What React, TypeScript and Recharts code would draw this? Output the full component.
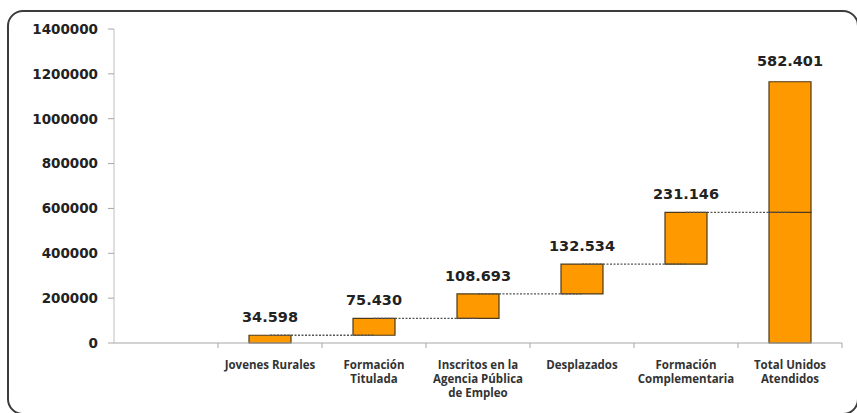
import React from "react";
import {
  ComposedChart,
  Bar,
  XAxis,
  YAxis,
  LabelList,
  ReferenceLine,
} from "recharts";

const categories = [
  "",
  "Jovenes Rurales",
  "Formación\nTitulada",
  "Inscritos en la\nAgencia Pública\nde Empleo",
  "Desplazados",
  "Formación\nComplementaria",
  "Total Unidos\nAtendidos",
];

// step values of the waterfall; the last one is the total
const steps = [null, 34598, 75430, 108693, 132534, 231146, 582401];

const yTicks = [0, 200000, 400000, 600000, 800000, 1000000, 1200000, 1400000];

const fmt = (v: number) => v.toLocaleString("de-DE");

const W = 857;
const H = 413;
const PLOT_LEFT = 114;
const PLOT_RIGHT = 15;
const BAND = (W - PLOT_LEFT - PLOT_RIGHT) / categories.length;

const lastIdx = categories.length - 1;

// build stacked rows: invisible base + visible delta (+ top segment for the total)
let running = 0;
const data = categories.map((name, i) => {
  const v = steps[i];
  if (v == null) return { name };
  if (i === lastIdx) {
    return {
      name,
      base: 0,
      delta: v,
      extra: v,
      totalLabel: fmt(v),
      level: v,
    };
  }
  const row = {
    name,
    base: running,
    delta: v,
    deltaLabel: fmt(v),
    level: running + v,
  };
  running += v;
  return row;
});

const CategoryTick = (props: any) => {
  const { x, y, payload, index } = props;
  const lines = String(payload.value).split("\n");
  const left = x - BAND / 2;
  return (
    <g>
      {index > 0 && (
        <line x1={left} x2={left} y1={y - 8} y2={y - 3} stroke="#a6a6a6" />
      )}
      {index === categories.length - 1 && (
        <line
          x1={left + BAND}
          x2={left + BAND}
          y1={y - 8}
          y2={y - 3}
          stroke="#a6a6a6"
        />
      )}
      <text
        x={x}
        y={y}
        textAnchor="middle"
        fill="#333"
        fontFamily="'Open Sans', sans-serif"
        fontWeight={700}
        fontSize={11.5}
      >
        {lines.map((l, k) => (
          <tspan key={k} x={x} dy={k === 0 ? 18 : 14}>
            {l}
          </tspan>
        ))}
      </text>
    </g>
  );
};

const connectors = data
  .slice(1, lastIdx)
  .map((d: any, i) => ({
    from: d.name,
    to: categories[i + 2],
    y: d.level,
  }));

export default function App() {
  return (
    <div
      style={{
        position: "absolute",
        left: 0,
        top: 0,
        width: W,
        height: H,
        background: "#fff",
        overflow: "hidden",
      }}
    >
      <div
        style={{
          position: "absolute",
          left: 7,
          top: 10,
          width: 852,
          height: 405,
          border: "2px solid #3c3c3c",
          borderRadius: 16,
          boxSizing: "border-box",
        }}
      />
      <div style={{ position: "absolute", left: 0, top: 0 }}>
        <ComposedChart
          width={W}
          height={H}
          data={data}
          margin={{ top: 29, right: PLOT_RIGHT, left: 0, bottom: 0 }}
          barSize={42}
        >
          <XAxis
            dataKey="name"
            height={70}
            tickLine={false}
            axisLine={{ stroke: "#a6a6a6" }}
            tick={<CategoryTick />}
            interval={0}
          />
          <YAxis
            width={PLOT_LEFT}
            domain={[0, 1400000]}
            ticks={yTicks}
            interval={0}
            axisLine={{ stroke: "#bfbfbf" }}
            tickLine={{ stroke: "#a6a6a6" }}
            tickSize={6}
            tickMargin={10}
            tick={{
              fill: "#222",
              fontFamily: "'DejaVu Sans', sans-serif",
              fontWeight: 700,
              fontSize: 13.5,
            }}
          />
          <Bar
            dataKey="base"
            stackId="w"
            fill="transparent"
            isAnimationActive={false}
          />
          <Bar
            dataKey="delta"
            stackId="w"
            fill="#ff9900"
            stroke="#4d3a1a"
            strokeWidth={1.2}
            isAnimationActive={false}
          >
            <LabelList
              dataKey="deltaLabel"
              position="top"
              offset={13}
              fill="#222"
              fontFamily="'DejaVu Sans', sans-serif"
              fontWeight={700}
              fontSize={14.5}
            />
          </Bar>
          <Bar
            dataKey="extra"
            stackId="w"
            fill="#ff9900"
            stroke="#4d3a1a"
            strokeWidth={1.2}
            isAnimationActive={false}
          >
            <LabelList
              dataKey="totalLabel"
              position="top"
              offset={16}
              fill="#222"
              fontFamily="'DejaVu Sans', sans-serif"
              fontWeight={700}
              fontSize={14.5}
            />
          </Bar>
          {connectors.map((c) => (
            <ReferenceLine
              key={c.from}
              segment={[
                { x: c.from, y: c.y },
                { x: c.to, y: c.y },
              ]}
              stroke="#555"
              strokeDasharray="2 1.5"
              strokeWidth={1.3}
            />
          ))}
        </ComposedChart>
      </div>
    </div>
  );
}
